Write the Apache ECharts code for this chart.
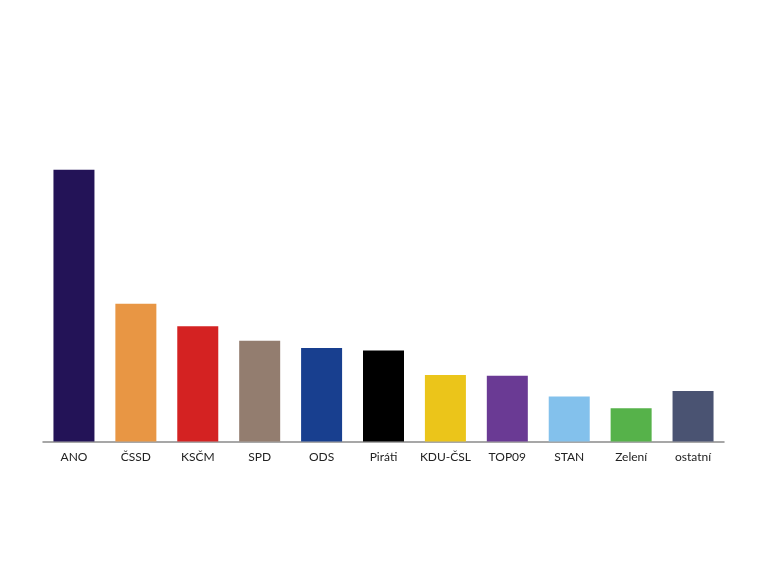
<!DOCTYPE html>
<html><head><meta charset="utf-8">
<script src="https://cdn.jsdelivr.net/npm/echarts@6/dist/echarts.min.js"></script>
<style>html,body{margin:0;padding:0;background:#fff}#c{width:768px;height:576px}</style>
</head><body><div id="c"></div>
<script>
const categories = ["ANO","ČSSD","KSČM","SPD","ODS","Piráti","KDU-ČSL","TOP09","STAN","Zelení","ostatní"];
const values = [30.2, 15.3, 12.8, 11.2, 10.4, 10.1, 7.4, 7.3, 5.0, 3.7, 5.6];
const colors = ["#231357","#E89644","#D42222","#937D6F","#183F8F","#000000","#EBC51A","#6A3A94","#83C1EC","#56B24A","#4A5372"];

const chart = echarts.init(document.getElementById('c'), null, {renderer:'canvas'});
chart.setOption({
  animation:false,
  backgroundColor:'#fff',
  grid:{left:43, right:44, top:126.5, bottom:134.5, containLabel:false},
  xAxis:{type:'category', data:categories,
    axisLine:{lineStyle:{color:'#8a8a8a', width:1.5}},
    axisTick:{show:false},
    axisLabel:{color:'#222', fontFamily:'Lato', fontSize:12, margin:10, interval:0}},
  yAxis:{type:'value', min:0, max:35, show:false, splitLine:{show:false}},
  series:[{type:'bar', barWidth:41,
    data: values.map((v,i)=>({value:v, itemStyle:{color:colors[i]}}))}]
});
</script></body></html>
